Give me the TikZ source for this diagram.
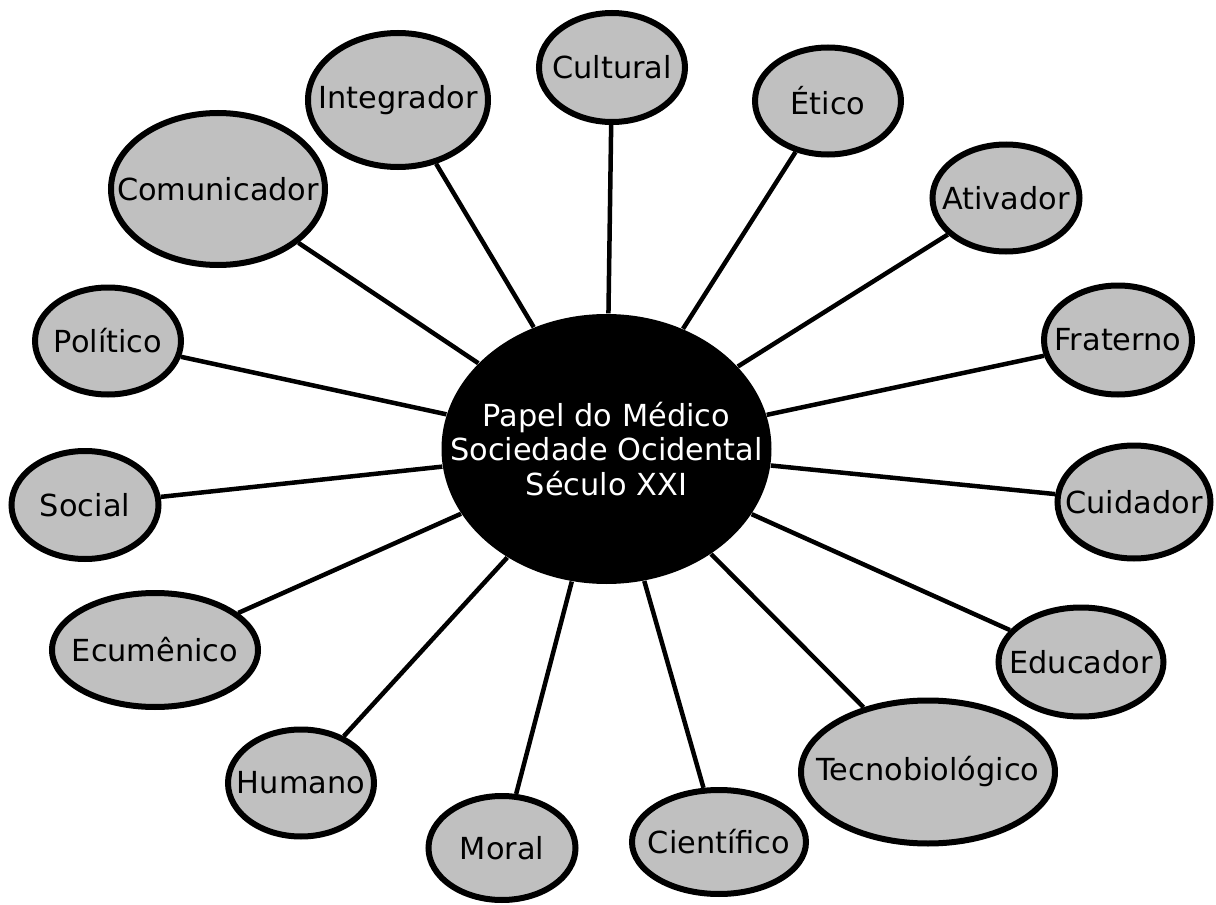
\documentclass[tikz,border=0pt]{standalone}
\usepackage{fontspec}
\setmainfont{DejaVu Sans}
\usetikzlibrary{shapes.geometric}

\definecolor{cinza}{RGB}{192,192,192}
\newlength\px
\setlength\px{0.0125cm}
% texto sem largura, a elipse fica com o tamanho dado
\newcommand\rotulo[1]{\makebox[0pt]{#1}}

\begin{document}
\begin{tikzpicture}[x=0.0125cm, y=-0.0125cm,
	papel/.style={ellipse, draw=black, fill=cinza, line width=6\px, inner sep=0pt,
		text=black, font=\fontsize{10.8}{13}\selectfont},
	centro/.style={ellipse, fill=black, inner sep=0pt, text=white, align=center,
		font=\fontsize{10.8}{12.2}\selectfont},
	ligacao/.style={line width=4.5\px}]

	\useasboundingbox (0,0) rectangle (1216,905);

	% centre
	\node[centro, minimum width=330\px, minimum height=270\px] (centro) at (606.5,449)
		{\rotulo{Papel do Médico}\\\rotulo{Sociedade Ocidental}\\\rotulo{Século XXI}};

	% papeis
	\node[papel, minimum width=146\px, minimum height=109\px] (cultural) at (612,67.5) {\rotulo{Cultural}};
	\node[papel, minimum width=180\px, minimum height=134\px] (integrador) at (398,100) {\rotulo{Integrador}};
	\node[papel, minimum width=214\px, minimum height=152\px] (comunicador) at (218,189) {\rotulo{Comunicador}};
	\node[papel, minimum width=146\px, minimum height=107\px] (politico) at (108,341) {\rotulo{Político}};
	\node[papel, minimum width=147\px, minimum height=108\px] (social) at (85,505) {\rotulo{Social}};
	\node[papel, minimum width=206\px, minimum height=114\px] (ecumenico) at (155,650) {\rotulo{Ecumênico}};
	\node[papel, minimum width=146\px, minimum height=107\px] (humano) at (301,783) {\rotulo{Humano}};
	\node[papel, minimum width=147\px, minimum height=104\px] (moral) at (502,848) {\rotulo{Moral}};
	\node[papel, minimum width=174\px, minimum height=104\px] (cientifico) at (719,842) {\rotulo{Científico}};
	\node[papel, minimum width=254\px, minimum height=143\px] (tecnobiologico) at (928,772) {\rotulo{Tecnobiológico}};
	\node[papel, minimum width=165\px, minimum height=109\px] (educador) at (1081,662) {\rotulo{Educador}};
	\node[papel, minimum width=153\px, minimum height=113\px] (cuidador) at (1134,502) {\rotulo{Cuidador}};
	\node[papel, minimum width=148\px, minimum height=109\px] (fraterno) at (1118,340) {\rotulo{Fraterno}};
	\node[papel, minimum width=147\px, minimum height=107\px] (ativador) at (1006,198) {\rotulo{Ativador}};
	\node[papel, minimum width=146\px, minimum height=107\px] (etico) at (828,101) {\rotulo{Ético}};

	% ligacoes
	\draw[ligacao] (centro) -- (cultural);
	\draw[ligacao] (centro) -- (integrador);
	\draw[ligacao] (centro) -- (comunicador);
	\draw[ligacao] (centro) -- (politico);
	\draw[ligacao] (centro) -- (social);
	\draw[ligacao] (centro) -- (ecumenico);
	\draw[ligacao] (centro) -- (humano);
	\draw[ligacao] (centro) -- (moral);
	\draw[ligacao] (centro) -- (cientifico);
	\draw[ligacao] (centro) -- (tecnobiologico);
	\draw[ligacao] (centro) -- (educador);
	\draw[ligacao] (centro) -- (cuidador);
	\draw[ligacao] (centro) -- (fraterno);
	\draw[ligacao] (centro) -- (ativador);
	\draw[ligacao] (centro) -- (etico);

\end{tikzpicture}
\end{document}
